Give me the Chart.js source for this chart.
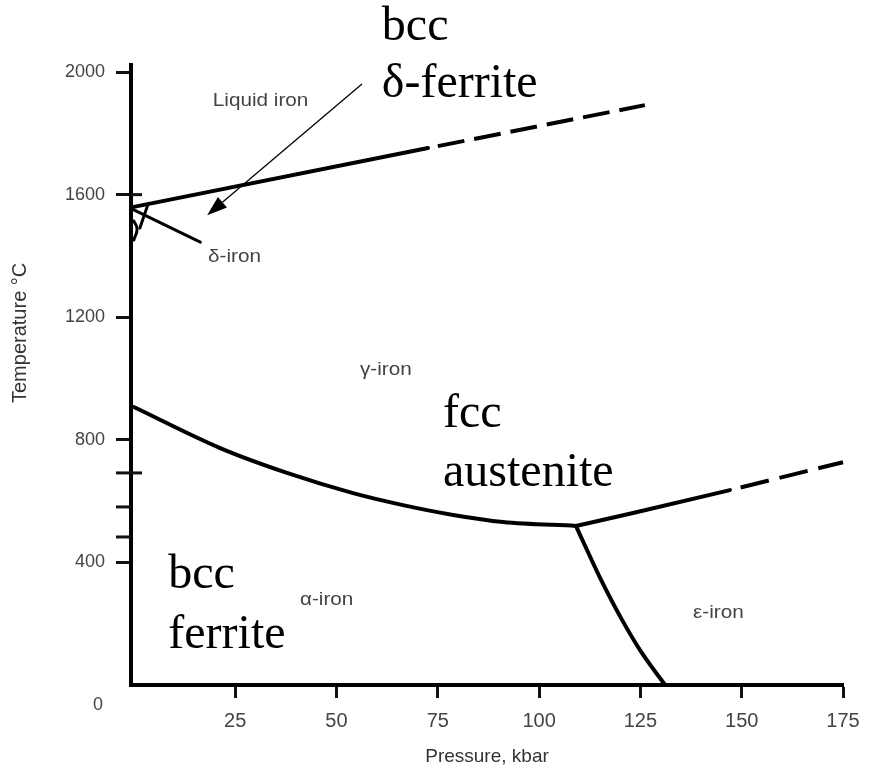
<!DOCTYPE html>
<html>
<head>
<meta charset="utf-8">
<script src="https://cdn.jsdelivr.net/npm/chart.js@4"></script>
<style>
  html, body { margin: 0; padding: 0; background: #fff; }
  #c { display: block; }
</style>
</head>
<body>
<canvas id="c" width="872" height="775"></canvas>
<script>
// ---- Data: pressure (kbar) / temperature (°C) ----
const liquidusP      = [0, 72.6];
const liquidusT      = [1560, 1752];
const liquidusDashP  = [72.6, 126.1];
const liquidusDashT  = [1752, 1892];

const alphaGammaP    = [0, 21.3, 37.8, 54.1, 66.4, 78.8, 91.1, 109.1];
const alphaGammaT    = [907, 773, 692, 626, 587, 555, 532, 519];

const gammaEpsP      = [109.1, 123.2, 147.1];
const gammaEpsT      = [519, 561, 636];
const gammaEpsDashP  = [147.1, 175];
const gammaEpsDashT  = [636, 727];

const alphaEpsP      = [109.1, 111.6, 115.3, 120.2, 125.2, 131.1];
const alphaEpsT      = [519, 447, 343, 219, 108, 0];

const deltaLeaderP   = [0, 16.4];
const deltaLeaderT   = [1550, 1445];
const deltaEdgeP     = [3.5, 1.5];
const deltaEdgeT     = [1569, 1491];
const deltaLoopP     = [0, 0.8, 0];
const deltaLoopT     = [1514, 1488, 1452];

const arrowP         = [56.3, 18.1];   // tail -> head
const arrowT         = [1961, 1533];

const xTickValues    = [25, 50, 75, 100, 125, 150, 175];
const yTickValues    = [0, 400, 800, 1200, 1600, 2000];
const minorTickT     = [483, 581, 692];
const crossTickT     = [692, 1600];

const phaseLabels    = ['Liquid iron', 'δ-iron', 'γ-iron', 'α-iron', 'ε-iron'];
const noteLabels     = ['bcc', 'δ-ferrite', 'fcc', 'austenite', 'bcc', 'ferrite'];

const zip = (xs, ys) => xs.map((v, i) => ({ x: v, y: ys[i] }));

function lineDs(xs, ys, extra) {
  return Object.assign({
    data: zip(xs, ys),
    showLine: true,
    borderColor: '#000',
    borderWidth: 4,
    pointRadius: 0,
    fill: false,
    clip: false,
    borderCapStyle: 'round',
    borderJoinStyle: 'round'
  }, extra || {});
}

const datasets = [
  lineDs(liquidusP, liquidusT),
  lineDs(liquidusDashP, liquidusDashT, { borderDash: [27, 10], borderDashOffset: 27, borderCapStyle: 'butt' }),
  lineDs(alphaGammaP, alphaGammaT, { cubicInterpolationMode: 'monotone' }),
  lineDs(gammaEpsP, gammaEpsT),
  lineDs(gammaEpsDashP, gammaEpsDashT, { borderDash: [29, 11], borderDashOffset: 29, borderCapStyle: 'butt' }),
  lineDs(alphaEpsP, alphaEpsT, { cubicInterpolationMode: 'monotone' }),
  lineDs(deltaLeaderP, deltaLeaderT, { borderWidth: 3 }),
  lineDs(deltaEdgeP, deltaEdgeT, { borderWidth: 3 }),
  lineDs(deltaLoopP, deltaLoopT, { borderWidth: 3, tension: 0.5 })
];

const annotPlugin = {
  id: 'annot',
  afterDraw(chart, args, opts) {
    const { ctx } = chart;
    const xs = chart.scales.x, ys = chart.scales.y;
    const px = v => xs.getPixelForValue(v);
    const py = v => ys.getPixelForValue(v);
    const axisX = chart.chartArea.left;

    ctx.save();
    // extra minor ticks on temperature axis
    ctx.strokeStyle = '#111';
    ctx.lineWidth = 3;
    minorTickT.forEach(t => {
      ctx.beginPath(); ctx.moveTo(axisX - 15, py(t)); ctx.lineTo(axisX, py(t)); ctx.stroke();
    });
    crossTickT.forEach(t => {
      ctx.beginPath(); ctx.moveTo(axisX, py(t)); ctx.lineTo(axisX + 11, py(t)); ctx.stroke();
    });

    // "0" label (offset below the axis as in the original)
    ctx.fillStyle = '#444';
    ctx.font = '18px "Liberation Sans", Arial, sans-serif';
    ctx.textAlign = 'center';
    ctx.textBaseline = 'middle';
    ctx.fillText(String(yTickValues[0]), opts.zeroLabel.x, opts.zeroLabel.y);

    // y axis title
    ctx.save();
    ctx.translate(opts.yTitle.x, opts.yTitle.y);
    ctx.rotate(-Math.PI / 2);
    ctx.font = '20px "Liberation Sans", Arial, sans-serif';
    ctx.fillStyle = '#333';
    ctx.textAlign = 'left';
    ctx.textBaseline = 'middle';
    ctx.fillText('Temperature \u00B0C', 0, 0);
    ctx.restore();

    // arrow
    const x1 = px(arrowP[0]), y1 = py(arrowT[0]);
    const x2 = px(arrowP[1]), y2 = py(arrowT[1]);
    const ang = Math.atan2(y2 - y1, x2 - x1);
    const headLen = 20, headHalf = 7;
    const bx = x2 - headLen * Math.cos(ang), by = y2 - headLen * Math.sin(ang);
    ctx.strokeStyle = '#000';
    ctx.lineWidth = 1.3;
    ctx.beginPath(); ctx.moveTo(x1, y1); ctx.lineTo(bx, by); ctx.stroke();
    ctx.fillStyle = '#000';
    ctx.beginPath();
    ctx.moveTo(x2, y2);
    ctx.lineTo(bx + headHalf * Math.sin(ang), by - headHalf * Math.cos(ang));
    ctx.lineTo(bx - headHalf * Math.sin(ang), by + headHalf * Math.cos(ang));
    ctx.closePath();
    ctx.fill();

    // small phase labels (original figure style, slightly stretched)
    ctx.fillStyle = '#444';
    ctx.font = '18px "Liberation Sans", Arial, sans-serif';
    ctx.textAlign = 'left';
    ctx.textBaseline = 'middle';
    opts.phasePos.forEach((p, i) => {
      ctx.save();
      ctx.translate(px(p.p), py(p.t));
      ctx.scale(1.15, 1);
      ctx.fillText(phaseLabels[i], 0, 0);
      ctx.restore();
    });

    // large serif notes
    ctx.fillStyle = '#000';
    ctx.font = '48px "Liberation Serif", "Times New Roman", serif';
    ctx.textAlign = 'left';
    ctx.textBaseline = 'alphabetic';
    opts.notePos.forEach((p, i) => {
      ctx.fillText(noteLabels[i], px(p.p), py(p.t));
    });
    ctx.restore();
  }
};

new Chart(document.getElementById('c'), {
  type: 'scatter',
  data: { datasets },
  plugins: [annotPlugin],
  options: {
    responsive: false,
    animation: false,
    events: [],
    layout: { padding: { top: 65, right: 29, bottom: 0, left: 0 } },
    plugins: {
      legend: { display: false },
      tooltip: { enabled: false },
      annot: {
        zeroLabel: { x: 98, y: 705 },
        yTitle: { x: 20, y: 403 },
        phasePos: [
          { p: 19.5, t: 1905 },
          { p: 18.3, t: 1396 },
          { p: 55.8, t: 1028 },
          { p: 41.0, t: 277 },
          { p: 138.0, t: 235 }
        ],
        notePos: [
          { p: 61.2, t: 2104 },
          { p: 61.2, t: 1918 },
          { p: 76.3, t: 842 },
          { p: 76.3, t: 649 },
          { p: 8.5, t: 316 },
          { p: 8.5, t: 121 }
        ]
      }
    },
    scales: {
      x: {
        type: 'linear',
        position: 'bottom',
        min: -0.7,
        max: 175,
        afterBuildTicks: s => { s.ticks = xTickValues.map(v => ({ value: v })); },
        afterFit: s => { s.height = 90; },
        border: { display: true, color: '#000', width: 4 },
        grid: { drawOnChartArea: false, drawTicks: true, tickLength: 13, tickWidth: 3, tickColor: '#111' },
        ticks: {
          autoSkip: false, maxRotation: 0, padding: 11, color: '#444',
          callback: v => String(v),
          font: { size: 20, family: '"Liberation Sans", Arial, sans-serif' }
        },
        title: {
          display: true, text: 'Pressure, kbar', color: '#333',
          font: { size: 19, family: '"Liberation Sans", Arial, sans-serif' },
          padding: { top: 0, bottom: 7 }
        }
      },
      y: {
        type: 'linear',
        position: 'left',
        min: 0,
        max: 2023,
        afterBuildTicks: s => { s.ticks = yTickValues.filter(v => v > 0).map(v => ({ value: v })); },
        afterFit: s => { s.width = 131; },
        border: { display: true, color: '#000', width: 4 },
        grid: { drawOnChartArea: false, drawTicks: true, tickLength: 15, tickWidth: 3, tickColor: '#111' },
        ticks: {
          autoSkip: false, padding: 11, color: '#444',
          callback: v => String(v),
          font: { size: 18, family: '"Liberation Sans", Arial, sans-serif' }
        },
        title: { display: false }
      }
    }
  }
});
</script>
</body>
</html>
